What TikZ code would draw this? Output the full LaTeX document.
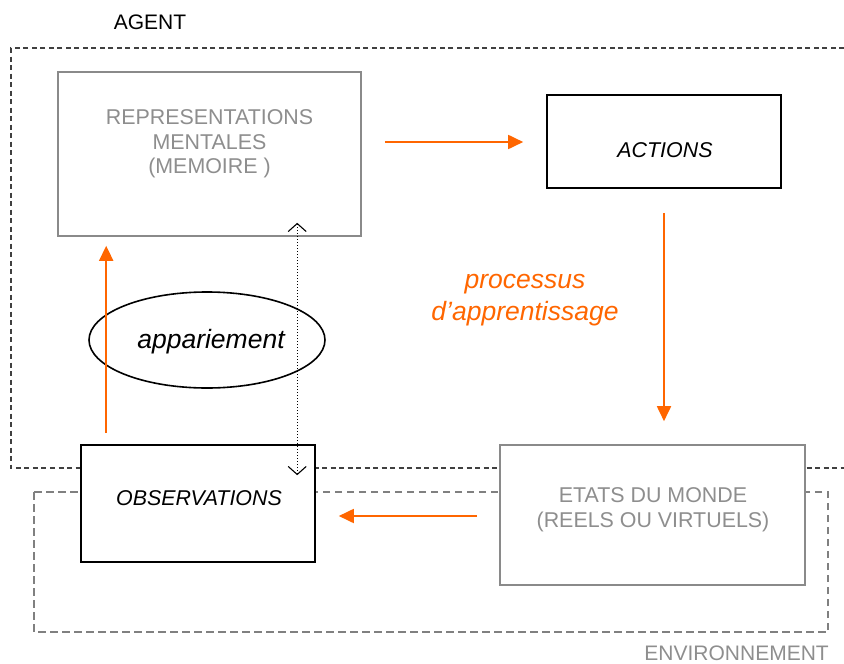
\documentclass[tikz,border=0pt]{standalone}
\usepackage{fontspec}
\setmainfont{Liberation Sans}
\usetikzlibrary{arrows.meta,shapes.geometric}
\definecolor{orng}{HTML}{FF6600}
\definecolor{gbox}{HTML}{8A8A8A}
\definecolor{gtxt}{HTML}{8E8E8E}
\definecolor{gdash}{HTML}{808080}
\definecolor{adash}{HTML}{404040}
\tikzset{
  blackbox/.style={draw=black, line width=1.6pt, fill=white, rectangle, inner sep=0pt},
  graybox/.style={draw=gbox, line width=1.6pt, fill=white, rectangle, inner sep=0pt},
  btxt/.style={font=\fontsize{21.4}{24.5}\selectfont, align=center, inner sep=0pt},
  gtext/.style={btxt, text=gtxt},
  oarrow/.style={draw=orng, line width=1.8pt, -{Triangle[length=15pt,width=14pt]}},
  dotarrow/.style={draw=black, line width=1pt, dotted, {Straight Barb[length=8pt,width=18pt,line width=1.1pt,sep=0pt]}-{Straight Barb[length=8pt,width=18pt,line width=1.1pt]}},
}
\begin{document}
\begin{tikzpicture}[x=1pt,y=-1pt]
\useasboundingbox (0,0) rectangle (844,664);
% agent dashed frame
\coordinate (a1) at (844,48);
\coordinate (a2) at (11,48);
\coordinate (a3) at (11,468);
\coordinate (a4) at (844,468);
\draw[adash, line width=1.3pt, dash pattern=on 5pt off 3.5pt] (a1) -- (a2) -- (a3) -- (a4);
% environment dashed frame
\coordinate (e1) at (34,492);
\coordinate (e2) at (828,632);
\draw[gdash, line width=1.3pt, dash pattern=on 7.5pt off 4.5pt] (e1) rectangle (e2);
\node[font=\fontsize{21}{24}\selectfont, inner sep=0pt] (agent) at (150,22) {AGENT};
\node[font=\fontsize{21}{24}\selectfont, text=gtxt, inner sep=0pt, anchor=east] (env) at (829,653.5) {ENVIRONNEMENT};
% boxes
\node[graybox, minimum width=303pt, minimum height=164pt] (rep) at (209.5,154) {};
\node[gtext] (reptxt) at (209.5,144) {REPRESENTATIONS\\MENTALES\\(MEMOIRE )};
\node[blackbox, minimum width=234pt, minimum height=93pt] (act) at (664,141.5) {};
\node[btxt, font=\fontsize{21.4}{24.5}\selectfont\itshape] (acttxt) at (665,150) {ACTIONS};
\node[blackbox, minimum width=234pt, minimum height=117pt] (obs) at (198,503.5) {};
\node[btxt, font=\fontsize{21.4}{24.5}\selectfont\itshape] (obstxt) at (199,498) {OBSERVATIONS};
\node[graybox, minimum width=305pt, minimum height=140pt] (eta) at (652.5,515) {};
\node[gtext] (etatxt) at (653,509.5) {ETATS DU MONDE\\(REELS OU VIRTUELS)};
% ellipse
\node[ellipse, draw=black, line width=1.6pt, minimum width=236pt, minimum height=96pt, inner sep=0pt] (app) at (207,340) {};
\node[font=\fontsize{26.5}{30}\selectfont\itshape, inner sep=0pt] (apptxt) at (211,342) {appariement};
% label
\node[font=\fontsize{26.5}{32}\selectfont\itshape, text=orng, align=center, inner sep=0pt] (proc) at (525,300) {processus\\d’apprentissage};
% orange arrows
\draw[oarrow, shorten <=23pt, shorten >=23pt] (rep.east |- 0,142) -- (act.west |- 0,142);
\draw[oarrow, shorten <=24pt, shorten >=23pt] (act.south) -- (act.south |- eta.north);
\draw[oarrow, shorten <=22pt, shorten >=23pt] (eta.west |- 0,516) -- (obs.east |- 0,516);
\draw[oarrow, shorten <=11pt, shorten >=9pt] ([xshift=26pt]obs.north west) -- ([xshift=26pt]obs.north west |- rep.south);
% dotted double arrow
\draw[dotarrow, shorten <=-14pt, shorten >=-31pt] ([xshift=240pt]rep.south west) -- ([xshift=240pt]rep.south west |- obs.north);
\end{tikzpicture}
\end{document}
